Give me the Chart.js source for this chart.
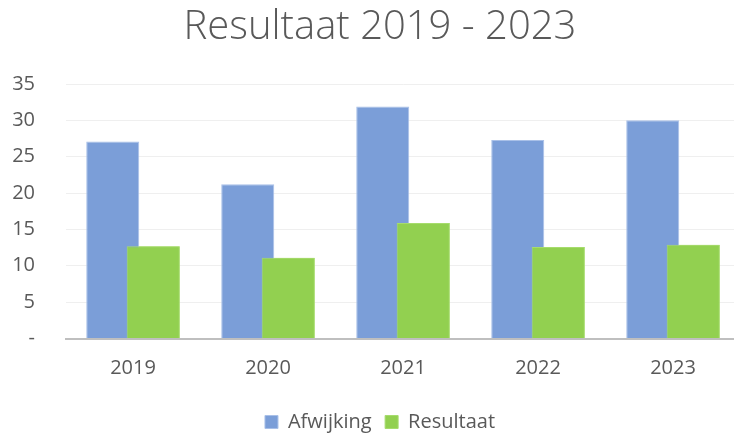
<!DOCTYPE html>
<html>
<head>
<meta charset="utf-8">
<script src="https://cdn.jsdelivr.net/npm/chart.js@4/dist/chart.umd.min.js"></script>
<style>
html,body{margin:0;padding:0;background:#fff;overflow:hidden;width:734px;height:434px;}
canvas{display:block;}
</style>
</head>
<body>
<canvas id="c" width="760" height="442"></canvas>
<script>
const categories = ['2019', '2020', '2021', '2022', '2023'];
const afwijking = [27.1, 21.2, 31.9, 27.3, 30.0];
const resultaat = [12.7, 11.1, 15.9, 12.6, 12.9];
const yTicks = [0, 5, 10, 15, 20, 25, 30, 35];
const seriesNames = ['Afwijking', 'Resultaat'];
const titleText = 'Resultaat 2019 - 2023';

const FONT = "'Open Sans', 'DejaVu Sans', sans-serif";

// Excel-style overlap: draw the second series again so it sits on top of the first
const secondOnTop = {
  id: 'secondOnTop',
  afterDatasetsDraw(chart) {
    const meta = chart.getDatasetMeta(1);
    if (meta && meta.controller) meta.controller.draw();
  }
};

new Chart(document.getElementById('c'), {
  type: 'bar',
  data: {
    labels: categories,
    datasets: [
      { label: seriesNames[0], data: afwijking, backgroundColor: '#7b9ed8', borderColor: '#a9c0e8', borderWidth: 1, borderSkipped: 'bottom' },
      { label: seriesNames[1], data: resultaat, backgroundColor: '#92d050', borderColor: '#a6dc6c', borderWidth: 1, borderSkipped: 'bottom' }
    ]
  },
  plugins: [secondOnTop],
  options: {
    responsive: false,
    animation: false,
    devicePixelRatio: 1,
    datasets: { bar: { categoryPercentage: 0.6, barPercentage: 1.31 } },
    layout: { padding: { left: 0, right: 0, top: 0, bottom: 0 } },
    plugins: {
      title: {
        display: true, text: titleText, color: '#595959',
        font: { family: FONT, size: 40, weight: '300' },
        padding: { top: 4, bottom: 32 }
      },
      legend: {
        position: 'bottom',
        labels: {
          color: '#595959', font: { family: FONT, size: 20 },
          boxWidth: 13, boxHeight: 13, padding: 13.5
        }
      },
      tooltip: { enabled: false }
    },
    scales: {
      x: {
        grid: { display: false, drawTicks: false },
        border: { display: true, color: '#bfbfbf', width: 2 },
        ticks: { color: '#595959', font: { family: FONT, size: 20 }, padding: 18 }
      },
      y: {
        min: 0, max: 35,
        afterFit: s => { s.width = 65.5; },
        afterBuildTicks: s => { s.ticks = yTicks.map(v => ({ value: v })); },
        grid: { color: '#efefef', lineWidth: 1, drawTicks: false },
        border: { display: false },
        ticks: {
          color: '#595959', font: { family: FONT, size: 20 }, padding: 30.5,
          callback: v => v === 0 ? '-' : String(v)
        }
      },
      yRight: {
        type: 'linear', position: 'right', min: 0, max: 35,
        afterFit: s => { s.width = 19.5; },
        grid: { display: false, drawTicks: false },
        border: { display: false },
        ticks: { display: false }
      }
    }
  }
});
</script>
</body>
</html>
